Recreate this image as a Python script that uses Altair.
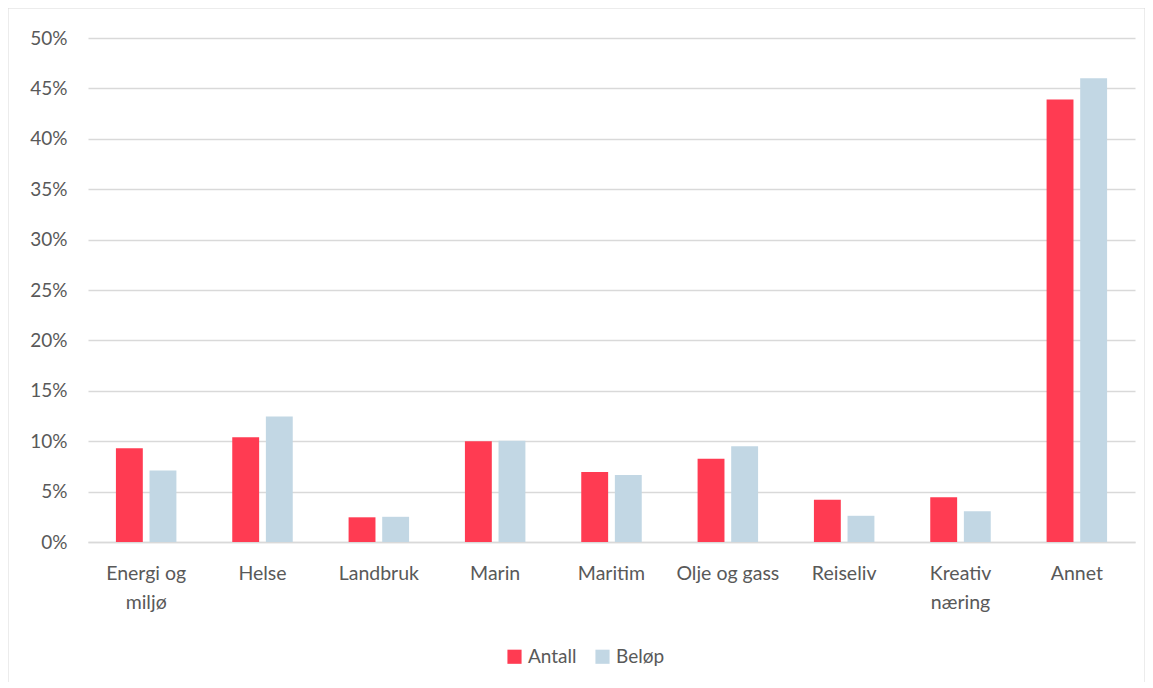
import altair as alt
import pandas as pd

categories = ["Energi og|miljø", "Helse", "Landbruk", "Marin", "Maritim",
              "Olje og gass", "Reiseliv", "Kreativ|næring", "Annet"]
antall = [9.3, 10.4, 2.45, 10.0, 6.95, 8.25, 4.2, 4.45, 43.9]
belop = [7.1, 12.45, 2.5, 10.05, 6.65, 9.5, 2.6, 3.05, 46.0]
series = ["Antall", "Beløp"]
colors = ["#FF3B52", "#C2D7E4"]

rows = []
for c, a, b in zip(categories, antall, belop):
    rows.append({"kat": c, "serie": "Antall", "verdi": a / 100})
    rows.append({"kat": c, "serie": "Beløp", "verdi": b / 100})
df = pd.DataFrame(rows)

FONT = "Lato"
TXT = "#595959"

bars = alt.Chart(df).mark_bar().encode(
    x=alt.X("kat:N", sort=categories, title=None,
            scale=alt.Scale(paddingInner=0.48, paddingOuter=0.24),
            axis=alt.Axis(labelAngle=0, labelExpr="split(datum.label, '|')",
                          labelPadding=22, ticks=False, domain=True,
                          domainColor="#d9d9d9", domainWidth=1.5,
                          labelFontSize=19.5, labelColor=TXT, labelFont=FONT,
                          labelLineHeight=29, grid=False)),
    xOffset=alt.XOffset("serie:N", sort=series,
                        scale=alt.Scale(paddingInner=0.2, paddingOuter=0)),
    y=alt.Y("verdi:Q", title=None,
            scale=alt.Scale(domain=[0, 0.5], nice=False),
            axis=alt.Axis(format=".0%", values=[i / 100 for i in range(0, 51, 5)],
                          labelPadding=21, ticks=False, domain=False,
                          gridColor="#d9d9d9", gridWidth=1.5,
                          labelFontSize=19, labelColor=TXT, labelFont=FONT)),
    color=alt.Color("serie:N", sort=series, title=None,
                    scale=alt.Scale(domain=series, range=colors),
                    legend=alt.Legend(orient="none", direction="horizontal",
                                      legendX=417, legendY=609,
                                      symbolType="square", symbolSize=200,
                                      symbolStrokeWidth=0,
                                      labelFontSize=19, labelColor=TXT,
                                      labelFont=FONT, columnPadding=16,
                                      labelOffset=4)),
)

border = alt.Chart(pd.DataFrame({"a": [0]})).mark_rect(
    fill=None, stroke="#d9d9d9", strokeWidth=1
).encode(
    x=alt.value(-80), x2=alt.value(1057),
    y=alt.value(-30), y2=alt.value(680),
)

chart = alt.layer(bars, border).properties(
    width=1047, height=504,
    background="white",
    autosize=alt.AutoSizeParams(type="none"),
    padding={"left": 80, "top": 30, "right": 10, "bottom": 140},
).configure_view(strokeWidth=0, stroke="transparent")

chart.save("out.html", embed_options={"renderer": "svg", "actions": False})
